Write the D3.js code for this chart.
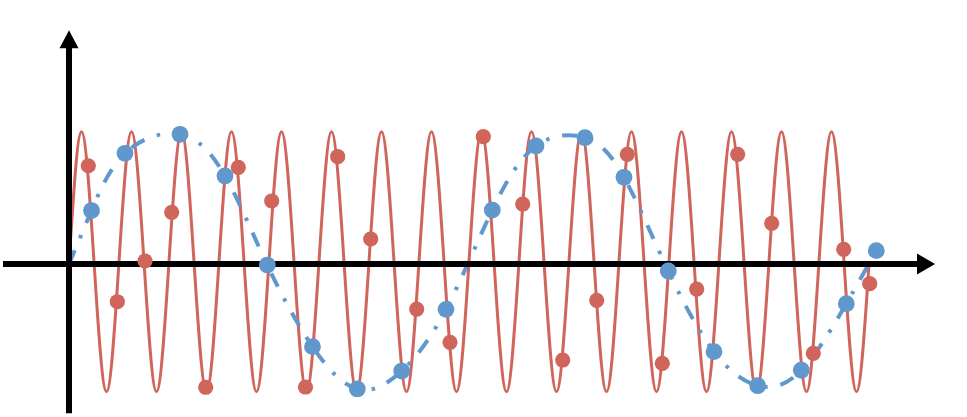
<!DOCTYPE html>
<html>
<head>
<meta charset="utf-8">
<script src="https://cdn.jsdelivr.net/npm/d3@7"></script>
<style>
  html, body { margin: 0; padding: 0; background: #fff; }
  svg { display: block; }
</style>
</head>
<body>
<svg id="chart" width="967" height="417"></svg>
<script>
// fast signal: peaks / troughs in units of its own period
const redLineT = [0, 0.25, 0.75, 1.25, 1.75, 2.25, 2.75, 3.25, 3.75, 4.25, 4.75, 5.25, 5.75,
  6.25, 6.75, 7.25, 7.75, 8.25, 8.75, 9.25, 9.75, 10.25, 10.75, 11.25, 11.75, 12.25, 12.75,
  13.25, 13.75, 14.25, 14.75, 15.25, 15.75, 16];
const redLineV = [0, 1.01, -0.975, 1.01, -0.975, 1.01, -0.975, 1.01, -0.975, 1.01, -0.975,
  1.01, -0.975, 1.01, -0.975, 1.01, -0.975, 1.01, -0.975, 1.01, -0.975, 1.01, -0.975,
  1.01, -0.975, 1.01, -0.975, 1.01, -0.975, 1.01, -0.975, 1.01, -0.975, 0];

// samples of the fast signal
const redDotT = [0.386, 0.966, 1.52, 2.054, 2.734, 3.386, 4.054, 4.73, 5.374, 6.034, 6.954, 7.62,
  8.286, 9.074, 9.874, 10.554, 11.166, 11.866, 12.554, 13.374, 14.054, 14.886, 15.494, 16.014];
const redDotV = [0.75, -0.288, 0.023, 0.395, -0.941, 0.738, 0.481, -0.939, 0.819, 0.191, -0.344, -0.598,
  0.972, 0.458, -0.733, -0.277, 0.837, -0.758, -0.191, 0.837, 0.311, -0.682, 0.112, -0.15];

// samples of the alias (slow signal), the dash-dot line runs through them
const blueDotT = [0.45, 1.12, 2.22, 3.12, 3.966, 4.87, 5.766, 6.654, 7.54, 8.466, 9.34,
  10.32, 11.1, 11.986, 12.9, 13.774, 14.646, 15.546, 16.146];
const blueDotV = [0.408, 0.845, 0.99, 0.672, -0.008, -0.631, -0.954, -0.817, -0.346, 0.412, 0.901,
  0.964, 0.662, -0.053, -0.669, -0.929, -0.811, -0.303, 0.102];

// axis extents (data units)
const xAxisExtent = [-1.32, 17.32];
const yAxisExtent = [-1.14, 1.785];

const RED = "#cf655b";
const BLUE = "#6097cd";

const svg = d3.select("#chart");
const x = d3.scaleLinear().domain([0, 16]).range([69, 869]);
const y = d3.scaleLinear().domain([-1, 1]).range([395, 133]);

const redLine = redLineT.map((t, i) => [t, redLineV[i]]);
const redDots = redDotT.map((t, i) => [t, redDotV[i]]);
const blueDots = blueDotT.map((t, i) => [t, blueDotV[i]]);
const bluePath = [[0, 0]].concat(blueDots);

// red signal
svg.append("path")
  .datum(redLine)
  .attr("fill", "none")
  .attr("stroke", RED)
  .attr("stroke-width", 3)
  .attr("d", d3.line().x(d => x(d[0])).y(d => y(d[1])).curve(d3.curveMonotoneX));

// blue alias, dash-dot
svg.append("path")
  .datum(bluePath)
  .attr("fill", "none")
  .attr("stroke", BLUE)
  .attr("stroke-width", 4)
  .attr("stroke-dasharray", "15 13 3.5 13")
  .attr("d", d3.line().x(d => x(d[0])).y(d => y(d[1])).curve(d3.curveNatural));

// axes with arrow heads
const ax = svg.append("g");
const x0 = x(0), y0 = y(0);
const xEnd = x(xAxisExtent[1]), yTop = y(yAxisExtent[1]);

ax.append("line")
  .attr("x1", x(xAxisExtent[0])).attr("x2", xEnd - 14)
  .attr("y1", y0).attr("y2", y0)
  .attr("stroke", "#000").attr("stroke-width", 6);
ax.append("path")
  .attr("d", `M${xEnd},${y0} L${xEnd - 18},${y0 - 10.5} L${xEnd - 18},${y0 + 10.5} Z`)
  .attr("fill", "#000");

ax.append("line")
  .attr("x1", x0).attr("x2", x0)
  .attr("y1", y(yAxisExtent[0])).attr("y2", yTop + 14)
  .attr("stroke", "#000").attr("stroke-width", 6);
ax.append("path")
  .attr("d", `M${x0},${yTop} L${x0 - 9.5},${yTop + 18} L${x0 + 9.5},${yTop + 18} Z`)
  .attr("fill", "#000");

// sample dots
svg.append("g").selectAll("circle")
  .data(redDots)
  .join("circle")
  .attr("cx", d => x(d[0]))
  .attr("cy", d => y(d[1]))
  .attr("r", 7.6)
  .attr("fill", RED);

svg.append("g").selectAll("circle")
  .data(blueDots)
  .join("circle")
  .attr("cx", d => x(d[0]))
  .attr("cy", d => y(d[1]))
  .attr("r", 8.4)
  .attr("fill", BLUE);
</script>
</body>
</html>
